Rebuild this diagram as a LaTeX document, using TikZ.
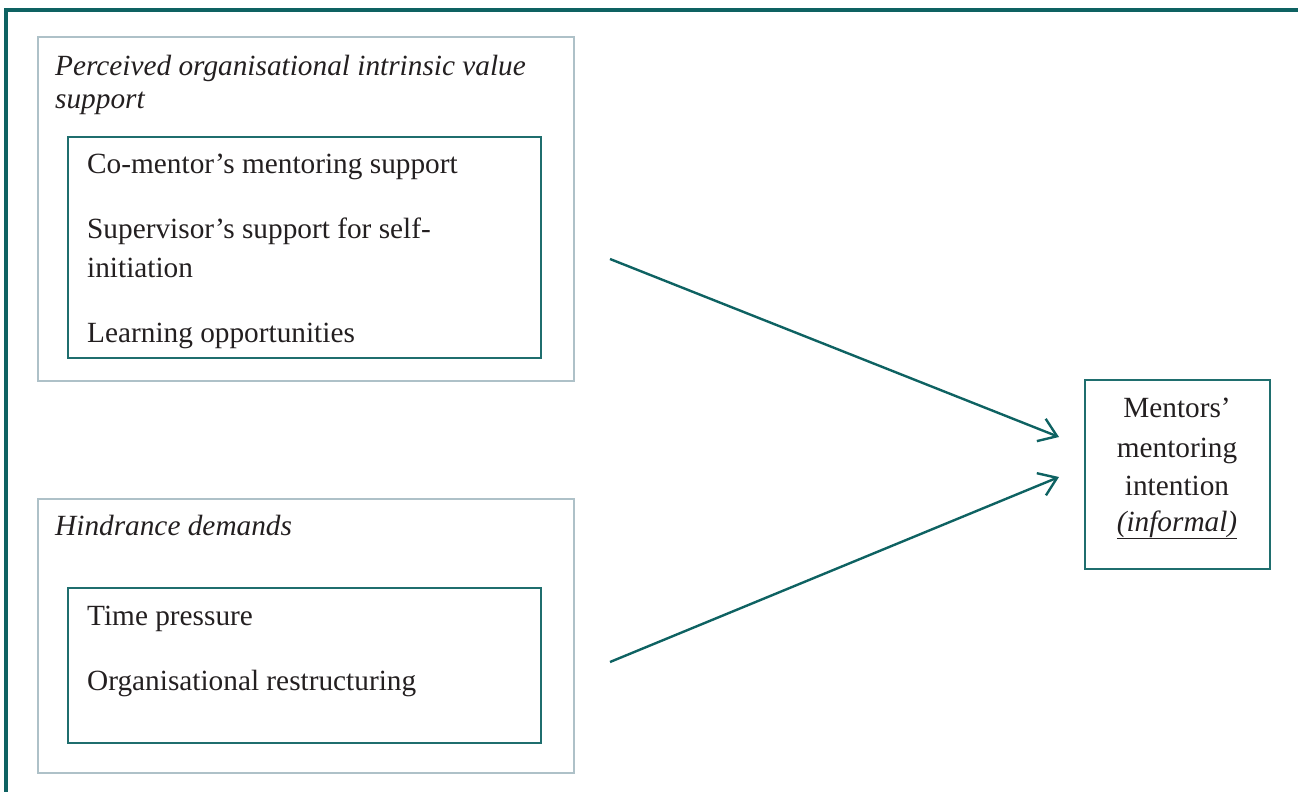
\documentclass[tikz,border=0pt]{standalone}
\usepackage{fontspec}
\setmainfont{Liberation Serif}
\usepackage{tikz}
\usetikzlibrary{arrows.meta}
\usetikzlibrary{positioning}
\definecolor{tealdark}{HTML}{0E6262}
\definecolor{tealbox}{HTML}{1F6E6E}
\definecolor{greybox}{HTML}{AEC1C8}
\definecolor{inktext}{HTML}{231F20}

\begin{document}
\begin{tikzpicture}[x=1pt,y=-1pt, every node/.style={text=inktext, font=\fontsize{29.3}{40}\selectfont}]
		\tikzstyle{outerbox}=[draw=greybox, line width=2pt, inner sep=0pt, anchor=north west]
		\tikzstyle{innerbox}=[draw=tealbox, line width=2pt, inner sep=0pt, anchor=north west]
		\tikzstyle{label}=[inner sep=0pt, anchor=base west]
		\tikzstyle{arr}=[draw=tealdark, line width=2.4pt, -{Straight Barb[length=17pt,width=24pt]}]
		\useasboundingbox (0,0) rectangle (1298,792);
		% frame
		\draw[tealdark, line width=4pt] (6,800) -- (6,10) -- (1306,10);
		% upper group
		\node[outerbox, minimum width=536pt, minimum height=344pt] (support) at (37,36) {};
		\node[innerbox, minimum width=473pt, minimum height=221pt] (supportlist) at (67,136) {};
		\node[label] (supporttitle) at (55,75) {\itshape Perceived organisational intrinsic value};
		\node[label] (supporttitleb) at (55,108) {\itshape support};
		\node[label] (comentor) at (87,173) {Co-mentor’s mentoring support};
		\node[label] (supervisor) at (87,238) {Supervisor’s support for self-};
		\node[label] (supervisorb) at (87,277) {initiation};
		\node[label] (learning) at (87,342) {Learning opportunities};
		% lower group
		\node[outerbox, minimum width=536pt, minimum height=274pt] (hindrance) at (37,498) {};
		\node[innerbox, minimum width=473pt, minimum height=155pt] (hindrancelist) at (67,587) {};
		\node[label] (hindrancetitle) at (55,535) {\itshape Hindrance demands};
		\node[label] (timepress) at (87,625) {Time pressure};
		\node[label] (restruct) at (87,690) {Organisational restructuring};
		% outcome
		\node[innerbox, minimum width=185pt, minimum height=189pt] (intention) at (1084,379) {};
		\node[inner sep=0pt, anchor=base] (intentiona) at (1177,417) {Mentors’};
		\node[inner sep=0pt, anchor=base] (intentionb) at (1177,457) {mentoring};
		\node[inner sep=0pt, anchor=base] (intentionc) at (1177,495) {intention};
		\node[inner sep=0pt, anchor=base] (intentiond) at (1177,531) {\underline{\itshape (informal)}};
		% paths
		\coordinate (fromsupport) at (610,259);
		\coordinate (fromhindrance) at (610,662);
		\coordinate (tosupport) at (1059,437);
		\coordinate (tohindrance) at (1059,477);
		\draw[arr] (fromsupport) -- (tosupport);
		\draw[arr] (fromhindrance) -- (tohindrance);
	\end{tikzpicture}
\end{document}
